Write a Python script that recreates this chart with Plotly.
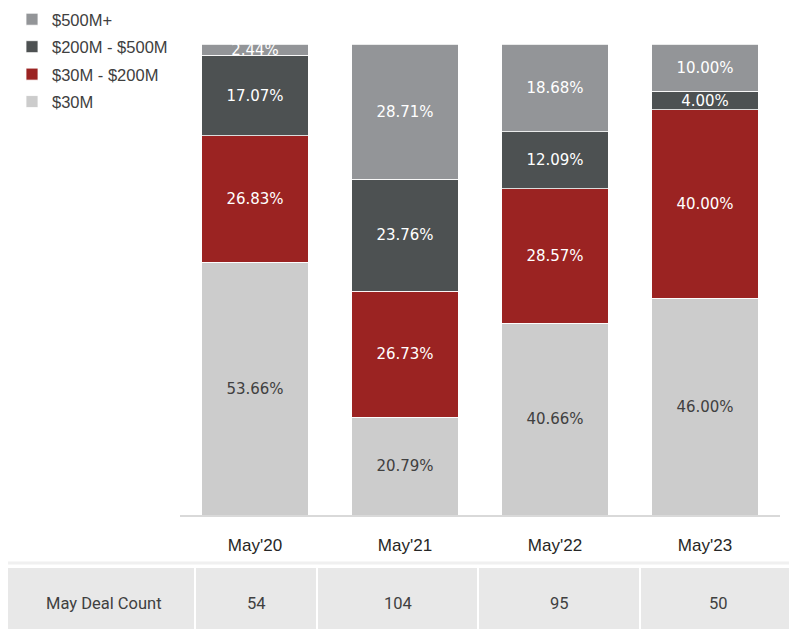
import plotly.graph_objects as go

categories = ["May'20", "May'21", "May'22", "May'23"]
series_names = ["$30M", "$30M - $200M", "$200M - $500M", "$500M+"]
v_30 = [53.66, 20.79, 40.66, 46.00]
v_30_200 = [26.83, 26.73, 28.57, 40.00]
v_200_500 = [17.07, 23.76, 12.09, 4.00]
v_500 = [2.44, 28.71, 18.68, 10.00]
table_label = "May Deal Count"
deal_counts = [54, 104, 95, 50]

series_values = [v_30, v_30_200, v_200_500, v_500]
colors = ["#cccccc", "#9b2322", "#4d5152", "#939598"]
text_colors = ["#404040", "#ffffff", "#ffffff", "#ffffff"]

OFF = 8  # page body margin
W, H = 797 - OFF, 629 - OFF
L, R, T, B = 180 - OFF, 17, 44 - OFF, 629 - 515
PW, PH = W - L - R, H - T - B

def px_x(x):  # page pixel -> paper
    return (x - OFF - L) / PW

def px_y(y):
    return (H - B - (y - OFF)) / PH

fig = go.Figure()
n = len(series_names)
for i, (name, vals) in enumerate(zip(series_names, series_values)):
    fig.add_trace(go.Bar(
        x=categories, y=vals, name=name,
        legendgroup=name,
        legendrank=n - i,
        marker=dict(color=colors[i], line=dict(color="#ffffff", width=0.8)),
        text=[f"{v:.2f}%" for v in vals],
        textposition="inside",
        insidetextanchor="middle",
        textangle=0,
        textfont=dict(family="DejaVu Sans", size=15, color=text_colors[i]),
        width=0.71,
        hoverinfo="skip",
    ))

shapes = []
shapes.append(dict(type="line", xref="paper", yref="paper",
                   x0=px_x(0), x1=px_x(800), y0=px_y(563), y1=px_y(563),
                   line=dict(color="#f0f0f0", width=3)))
shapes.append(dict(type="rect", xref="paper", yref="paper",
                   x0=px_x(8), x1=px_x(800), y0=px_y(568), y1=px_y(640),
                   fillcolor="#e8e8e8", line=dict(width=0), layer="below"))
col_edges = [8, 195, 317, 478, 640, 797]
for xe in col_edges[1:-1]:
    shapes.append(dict(type="line", xref="paper", yref="paper",
                       x0=px_x(xe), x1=px_x(xe), y0=px_y(568), y1=px_y(640),
                       line=dict(color="#ffffff", width=2)))

annotations = []
cells = [table_label] + [str(c) for c in deal_counts]
for j, txt in enumerate(cells):
    xc = (col_edges[j] + col_edges[j + 1]) / 2
    if j == 0:
        xc = 104
    annotations.append(dict(
        text=txt, xref="paper", yref="paper",
        x=px_x(xc), y=px_y(603), xanchor="center", yanchor="middle",
        showarrow=False,
        font=dict(family="Roboto", size=16.5, color="#404040"),
    ))

fig.update_layout(
    width=W, height=H,
    margin=dict(l=L, r=R, t=T, b=B, pad=0, autoexpand=False),
    barmode="stack",
    plot_bgcolor="#ffffff",
    paper_bgcolor="#ffffff",
    showlegend=True,
    legend=dict(
        xref="paper", yref="paper",
        x=px_x(12), y=px_y(2), xanchor="left", yanchor="top",
        traceorder="grouped",
        tracegroupgap=3,
        font=dict(family="Liberation Sans", size=16.5, color="#404040"),
        bgcolor="rgba(0,0,0,0)",
        itemclick=False,
    ),
    uniformtext=dict(minsize=15, mode="show"),
    xaxis=dict(
        range=[-0.5, 3.5],
        showline=True, linecolor="#d9d9d9", linewidth=2,
        showgrid=False, zeroline=False,
        ticks="", ticklabelstandoff=14,
        tickfont=dict(family="Liberation Sans", size=17, color="#262626"),
    ),
    yaxis=dict(
        range=[0, 100], visible=False, showgrid=False, zeroline=False,
    ),
    shapes=shapes,
    annotations=annotations,
)

fig.write_html("out.html")
